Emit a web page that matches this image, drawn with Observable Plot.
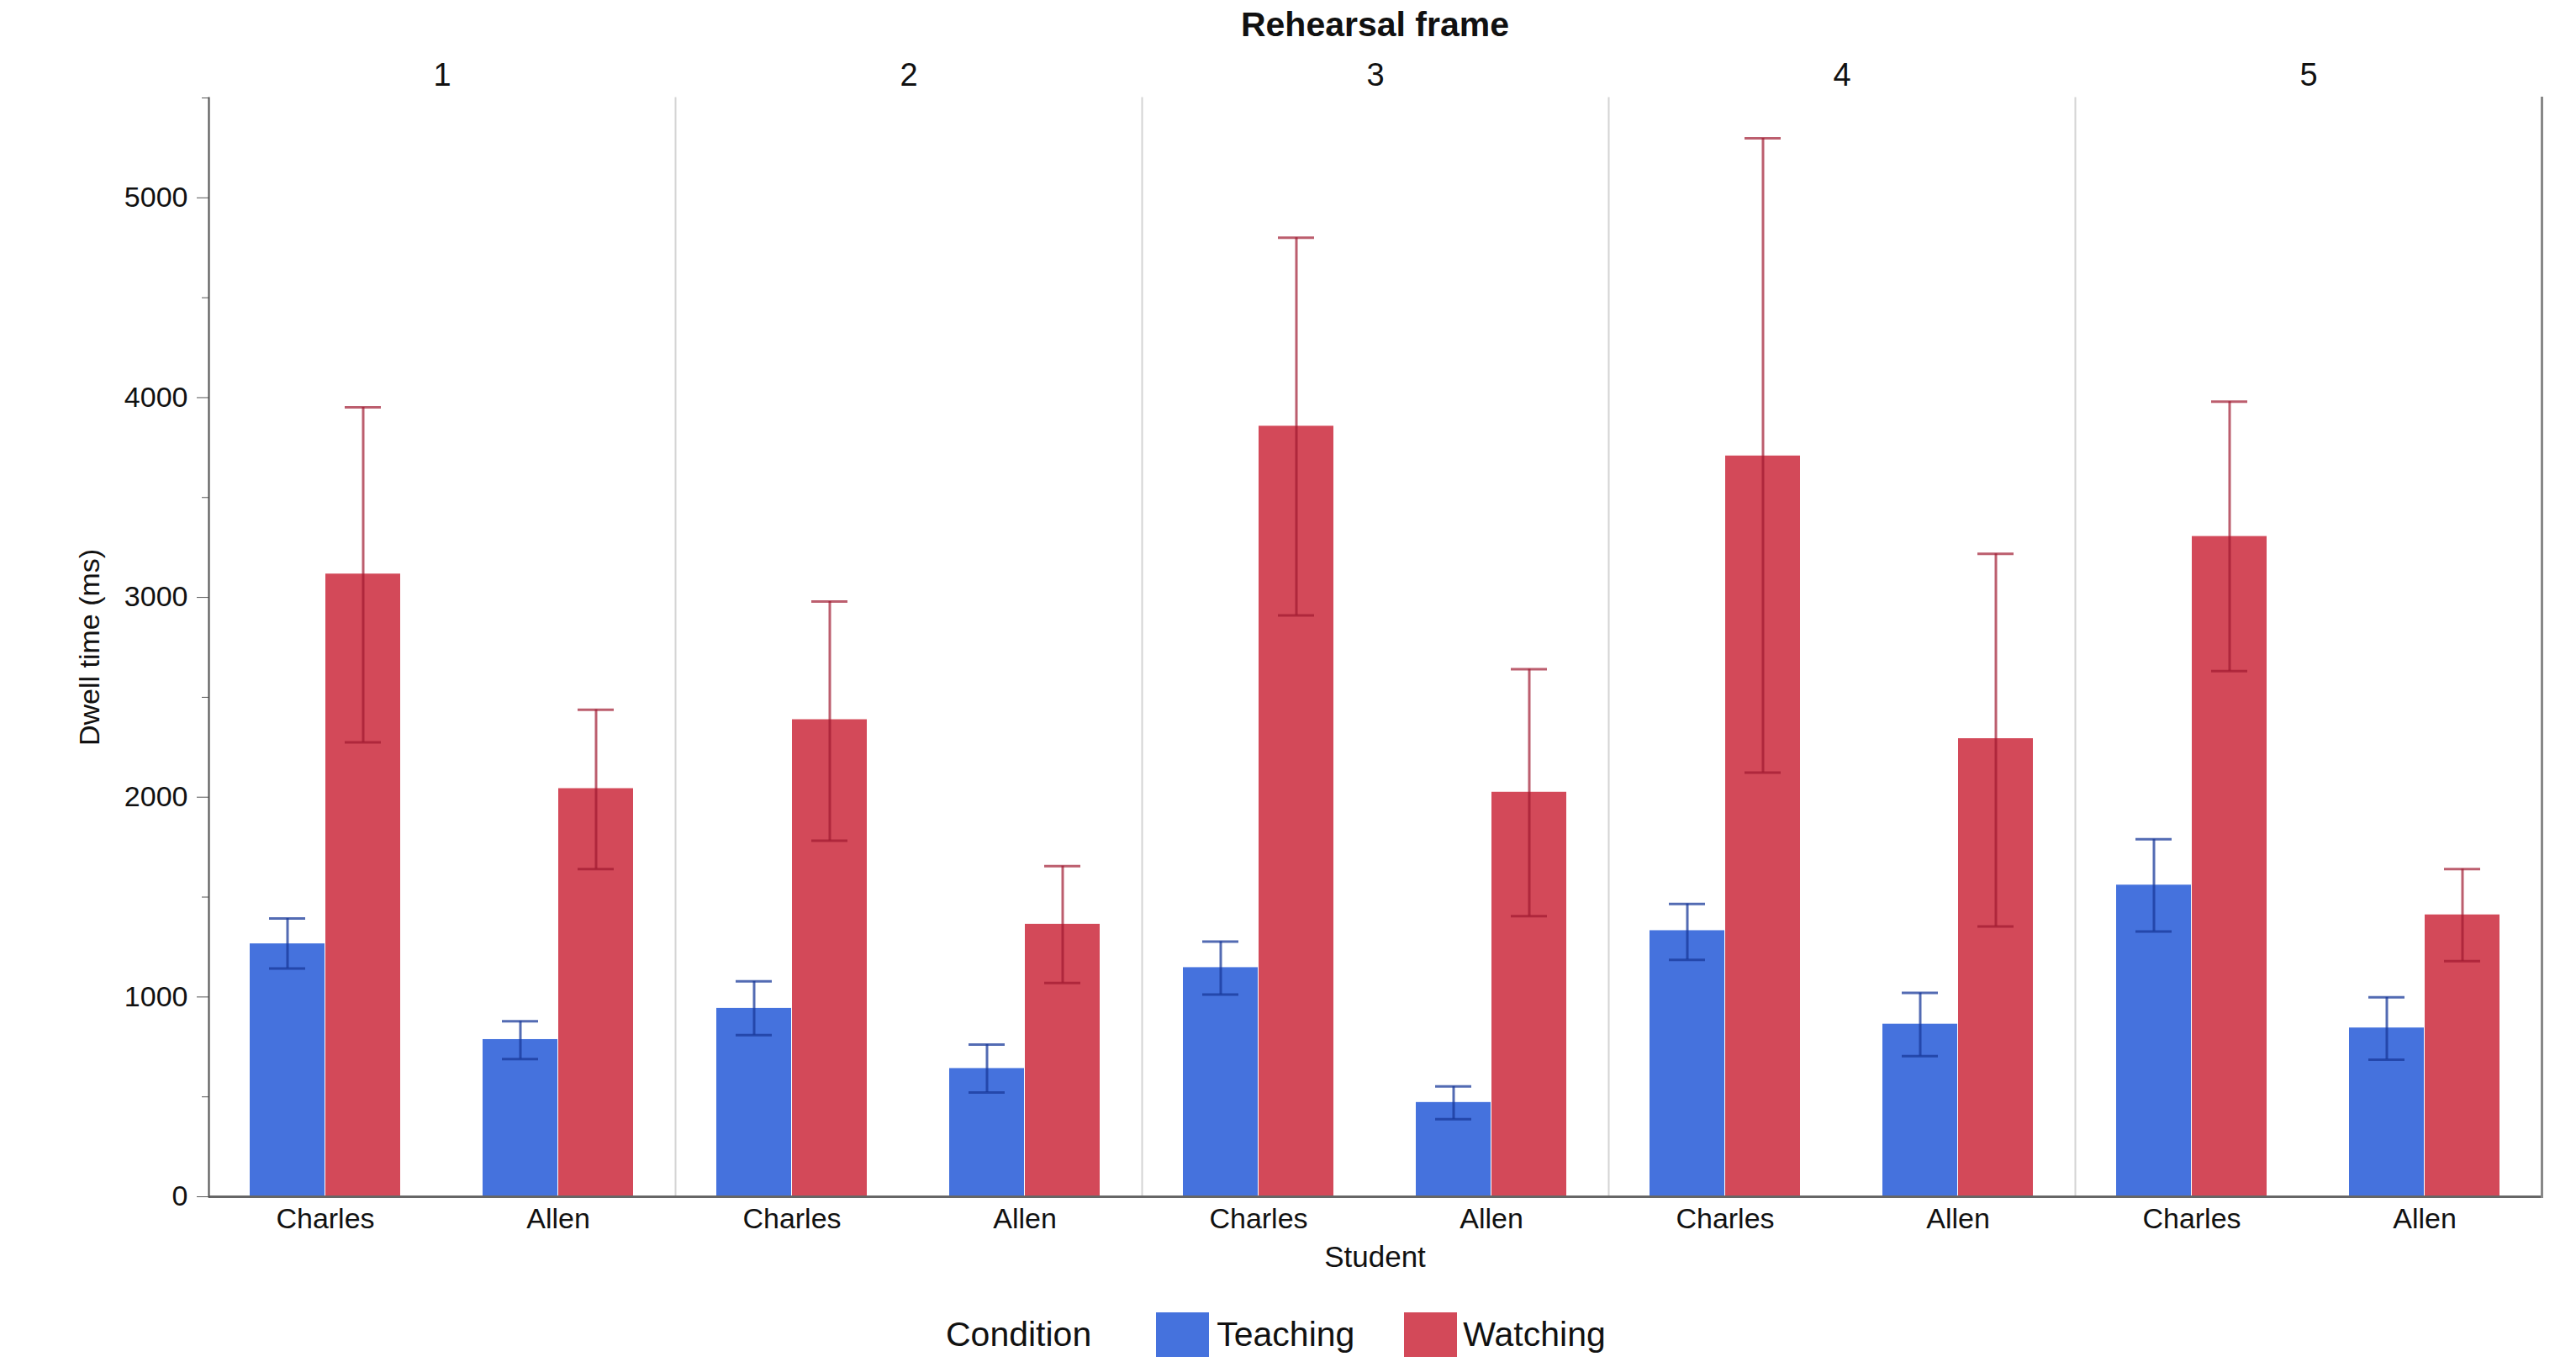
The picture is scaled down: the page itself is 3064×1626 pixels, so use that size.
<!DOCTYPE html>
<html>
<head>
<meta charset="utf-8">
<script src="https://cdn.jsdelivr.net/npm/d3@7"></script>
<script src="https://cdn.jsdelivr.net/npm/@observablehq/plot@0.6"></script>
<style>
  html, body { margin: 0; padding: 0; background: #fff; }
  body { width: 3064px; font-family: "Liberation Sans", Arial, Helvetica, sans-serif; color: #111; }
  #title { height: 58px; line-height: 58px; font-size: 41px; font-weight: bold; text-align: center; padding-left: 246px; padding-right: 39px; }
  #chart svg { display: block; }
  #xlabel { height: 40px; line-height: 34px; font-size: 35px; text-align: center; padding-left: 246px; padding-right: 39px; }
  #legend { margin-top: 43px; height: 53px; display: flex; align-items: center; padding-left: 1125px; font-size: 41px; }
  #legend .sw { width: 63px; height: 53px; display: inline-block; }
</style>
</head>
<body>
<div id="title">Rehearsal frame</div>
<div id="chart"></div>
<div id="xlabel">Student</div>
<div id="legend"></div>
<script>
// ---- data ----
const frames = [1, 2, 3, 4, 5];
const students = ["Charles", "Allen"];
const conditions = ["Teaching", "Watching"];
const colors = ["#4572DD", "#D34959"];

const charlesTeachingMean = [1266, 943, 1147, 1332, 1560];
const charlesTeachingLow  = [1143, 809, 1012, 1186, 1328];
const charlesTeachingHigh = [1393, 1078, 1277, 1466, 1789];

const charlesWatchingMean = [3117, 2388, 3857, 3708, 3305];
const charlesWatchingLow  = [2275, 1782, 2910, 2123, 2631];
const charlesWatchingHigh = [3951, 2979, 4800, 5298, 3980];

const allenTeachingMean = [787, 642, 472, 864, 845];
const allenTeachingLow  = [689, 522, 388, 704, 686];
const allenTeachingHigh = [878, 762, 552, 1020, 998];

const allenWatchingMean = [2043, 1364, 2025, 2293, 1411];
const allenWatchingLow  = [1640, 1070, 1404, 1353, 1179];
const allenWatchingHigh = [2438, 1655, 2641, 3218, 1640];

const yMajorTicks = [0, 1000, 2000, 3000, 4000, 5000];
const yMinorTicks = [500, 1500, 2500, 3500, 4500, 5500];

// ---- build rows ----
const series = [
  ["Charles", "Teaching", charlesTeachingMean, charlesTeachingLow, charlesTeachingHigh],
  ["Charles", "Watching", charlesWatchingMean, charlesWatchingLow, charlesWatchingHigh],
  ["Allen", "Teaching", allenTeachingMean, allenTeachingLow, allenTeachingHigh],
  ["Allen", "Watching", allenWatchingMean, allenWatchingLow, allenWatchingHigh]
];
const rows = [];
for (const [student, condition, m, lo, hi] of series) {
  frames.forEach((f, i) => rows.push({frame: f, student, condition, mean: m[i], low: lo[i], high: hi[i]}));
}
const teach = rows.filter(d => d.condition === "Teaching");
const watch = rows.filter(d => d.condition === "Watching");

const blueErr = "#1a3a9a", redErr = "#a01a30";
const half = 90;   // half of the group band (each bar's width)

const chart = Plot.plot({
  width: 3064,
  height: 1420,
  marginTop: 58,
  marginBottom: 55,
  marginLeft: 246,
  marginRight: 39,
  style: {fontFamily: "'Liberation Sans', Arial, Helvetica, sans-serif", fontSize: "34px", color: "#111", background: "#fff", overflow: "visible"},
  fx: {domain: frames, paddingInner: 0, paddingOuter: 0, label: null},
  x: {domain: students, paddingInner: 0.3525, paddingOuter: 0.17625, label: null},
  y: {domain: [0, 5500], label: null},
  color: {domain: conditions, range: colors},
  marks: [
    Plot.frame({anchor: "left", stroke: "#d4d4d4", strokeWidth: 2}),
    Plot.barY(teach, {fx: "frame", x: "student", y: "mean", fill: "condition", insetRight: half}),
    Plot.barY(watch, {fx: "frame", x: "student", y: "mean", fill: "condition", insetLeft: half}),
    Plot.ruleX(teach, {fx: "frame", x: "student", y1: "low", y2: "high", dx: -45, stroke: blueErr, strokeOpacity: 0.75, strokeWidth: 3}),
    Plot.tickY(teach, {fx: "frame", x: "student", y: "high", dx: -45, inset: 68, stroke: blueErr, strokeOpacity: 0.75, strokeWidth: 3}),
    Plot.tickY(teach, {fx: "frame", x: "student", y: "low", dx: -45, inset: 68, stroke: blueErr, strokeOpacity: 0.75, strokeWidth: 3}),
    Plot.ruleX(watch, {fx: "frame", x: "student", y1: "low", y2: "high", dx: 45, stroke: redErr, strokeOpacity: 0.7, strokeWidth: 3}),
    Plot.tickY(watch, {fx: "frame", x: "student", y: "high", dx: 45, inset: 68, stroke: redErr, strokeOpacity: 0.7, strokeWidth: 3}),
    Plot.tickY(watch, {fx: "frame", x: "student", y: "low", dx: 45, inset: 68, stroke: redErr, strokeOpacity: 0.7, strokeWidth: 3}),
    Plot.ruleY([0], {stroke: "#666", strokeWidth: 3}),
    Plot.frame({anchor: "left", facetAnchor: "left", stroke: "#555", strokeWidth: 2}),
    Plot.frame({anchor: "right", facetAnchor: "right", stroke: "#888", strokeWidth: 3}),
    Plot.axisFx({anchor: "top", tickSize: 0, tickPadding: 15, fontSize: 38, label: null}),
    Plot.axisX({anchor: "bottom", tickSize: 0, tickPadding: 13, fontSize: 34, label: null}),
    Plot.axisY(yMinorTicks, {anchor: "left", tickSize: 8, stroke: "#555", fill: "none", label: null}),
    Plot.axisY(yMajorTicks, {anchor: "left", tickSize: 14, tickPadding: 11, fontSize: 34, stroke: "#555", fill: "#111",
      tickFormat: d3.format("d"),
      label: "Dwell time (ms)", labelAnchor: "center", labelOffset: 155, labelArrow: "none"})
  ]
});
document.getElementById("chart").appendChild(chart);

// ---- legend ----
const legend = document.getElementById("legend");
const lt = document.createElement("span");
lt.textContent = "Condition";
lt.style.marginRight = "77px";
legend.appendChild(lt);
conditions.forEach((c, i) => {
  const sw = document.createElement("span");
  sw.className = "sw";
  sw.style.background = colors[i];
  const tx = document.createElement("span");
  tx.textContent = c;
  tx.style.marginLeft = i === 0 ? "9px" : "7px";
  if (i === 0) tx.style.marginRight = "59px";
  legend.appendChild(sw);
  legend.appendChild(tx);
});
</script>
</body>
</html>
